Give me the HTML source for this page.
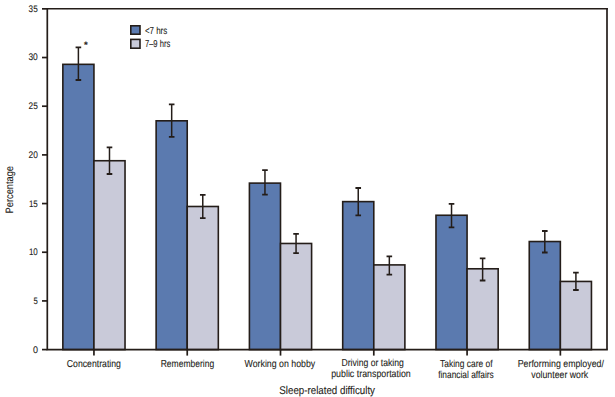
<!DOCTYPE html>
<html><head><meta charset="utf-8"><style>
html,body{margin:0;padding:0;background:#fff;width:615px;height:397px;overflow:hidden}
svg{display:block}
text{font-family:"Liberation Sans",sans-serif;fill:#241d19;stroke:#241d19;stroke-width:0.1px;text-rendering:geometricPrecision}
</style></head><body>
<svg width="615" height="397" viewBox="0 0 615 397">
<rect x="62.85" y="64.34" width="31.09" height="285.26" fill="#5b7aaf" stroke="#241d19" stroke-width="1.6"/>
<rect x="93.94" y="160.73" width="31.09" height="188.87" fill="#c9cad9" stroke="#241d19" stroke-width="1.6"/>
<rect x="156.13" y="120.81" width="31.09" height="228.79" fill="#5b7aaf" stroke="#241d19" stroke-width="1.6"/>
<rect x="187.23" y="206.49" width="31.09" height="143.11" fill="#c9cad9" stroke="#241d19" stroke-width="1.6"/>
<rect x="249.41" y="183.12" width="31.09" height="166.48" fill="#5b7aaf" stroke="#241d19" stroke-width="1.6"/>
<rect x="280.51" y="243.48" width="31.09" height="106.12" fill="#c9cad9" stroke="#241d19" stroke-width="1.6"/>
<rect x="342.70" y="201.62" width="31.09" height="147.98" fill="#5b7aaf" stroke="#241d19" stroke-width="1.6"/>
<rect x="373.79" y="264.90" width="31.09" height="84.70" fill="#c9cad9" stroke="#241d19" stroke-width="1.6"/>
<rect x="435.98" y="215.25" width="31.09" height="134.35" fill="#5b7aaf" stroke="#241d19" stroke-width="1.6"/>
<rect x="467.08" y="268.79" width="31.09" height="80.81" fill="#c9cad9" stroke="#241d19" stroke-width="1.6"/>
<rect x="529.26" y="241.53" width="31.09" height="108.07" fill="#5b7aaf" stroke="#241d19" stroke-width="1.6"/>
<rect x="560.36" y="281.45" width="31.09" height="68.15" fill="#c9cad9" stroke="#241d19" stroke-width="1.6"/>
<path d="M78.39 47.40V80.00" stroke="#241d19" stroke-width="1.5" fill="none"/>
<path d="M75.59 47.40H81.19M75.59 80.00H81.19" stroke="#241d19" stroke-width="1.8" fill="none"/>
<path d="M109.49 147.30V174.00" stroke="#241d19" stroke-width="1.5" fill="none"/>
<path d="M106.69 147.30H112.29M106.69 174.00H112.29" stroke="#241d19" stroke-width="1.8" fill="none"/>
<path d="M171.68 104.40V136.80" stroke="#241d19" stroke-width="1.5" fill="none"/>
<path d="M168.88 104.40H174.48M168.88 136.80H174.48" stroke="#241d19" stroke-width="1.8" fill="none"/>
<path d="M202.77 194.80V218.20" stroke="#241d19" stroke-width="1.5" fill="none"/>
<path d="M199.97 194.80H205.57M199.97 218.20H205.57" stroke="#241d19" stroke-width="1.8" fill="none"/>
<path d="M264.96 170.20V194.70" stroke="#241d19" stroke-width="1.5" fill="none"/>
<path d="M262.16 170.20H267.76M262.16 194.70H267.76" stroke="#241d19" stroke-width="1.8" fill="none"/>
<path d="M296.06 233.80V253.20" stroke="#241d19" stroke-width="1.5" fill="none"/>
<path d="M293.26 233.80H298.86M293.26 253.20H298.86" stroke="#241d19" stroke-width="1.8" fill="none"/>
<path d="M358.24 188.00V215.40" stroke="#241d19" stroke-width="1.5" fill="none"/>
<path d="M355.44 188.00H361.04M355.44 215.40H361.04" stroke="#241d19" stroke-width="1.8" fill="none"/>
<path d="M389.34 256.40V274.70" stroke="#241d19" stroke-width="1.5" fill="none"/>
<path d="M386.54 256.40H392.14M386.54 274.70H392.14" stroke="#241d19" stroke-width="1.8" fill="none"/>
<path d="M451.53 203.80V227.40" stroke="#241d19" stroke-width="1.5" fill="none"/>
<path d="M448.73 203.80H454.33M448.73 227.40H454.33" stroke="#241d19" stroke-width="1.8" fill="none"/>
<path d="M482.62 258.30V280.50" stroke="#241d19" stroke-width="1.5" fill="none"/>
<path d="M479.82 258.30H485.42M479.82 280.50H485.42" stroke="#241d19" stroke-width="1.8" fill="none"/>
<path d="M544.81 231.00V252.50" stroke="#241d19" stroke-width="1.5" fill="none"/>
<path d="M542.01 231.00H547.61M542.01 252.50H547.61" stroke="#241d19" stroke-width="1.8" fill="none"/>
<path d="M575.91 272.60V290.00" stroke="#241d19" stroke-width="1.5" fill="none"/>
<path d="M573.11 272.60H578.71M573.11 290.00H578.71" stroke="#241d19" stroke-width="1.8" fill="none"/>
<path d="M47.30 8.85H607.85" stroke="#241d19" stroke-width="1.5" fill="none"/>
<path d="M607.00 8.10V349.60" stroke="#241d19" stroke-width="1.7" fill="none"/>
<path d="M47.30 8.00V349.60H607.85" stroke="#241d19" stroke-width="1.7" fill="none"/>
<path d="M42 349.60H47.30" stroke="#241d19" stroke-width="1.7"/>
<path d="M42 300.92H47.30" stroke="#241d19" stroke-width="1.7"/>
<path d="M42 252.24H47.30" stroke="#241d19" stroke-width="1.7"/>
<path d="M42 203.56H47.30" stroke="#241d19" stroke-width="1.7"/>
<path d="M42 154.89H47.30" stroke="#241d19" stroke-width="1.7"/>
<path d="M42 106.21H47.30" stroke="#241d19" stroke-width="1.7"/>
<path d="M42 57.53H47.30" stroke="#241d19" stroke-width="1.7"/>
<path d="M42 8.85H47.30" stroke="#241d19" stroke-width="1.7"/>
<path d="M93.94 349.60V355.6" stroke="#241d19" stroke-width="1.7"/>
<path d="M187.23 349.60V355.6" stroke="#241d19" stroke-width="1.7"/>
<path d="M280.51 349.60V355.6" stroke="#241d19" stroke-width="1.7"/>
<path d="M373.79 349.60V355.6" stroke="#241d19" stroke-width="1.7"/>
<path d="M467.08 349.60V355.6" stroke="#241d19" stroke-width="1.7"/>
<path d="M560.36 349.60V355.6" stroke="#241d19" stroke-width="1.7"/>
<text x="32.90" y="352.80" font-size="9.5" textLength="5.00" lengthAdjust="spacingAndGlyphs">0</text>
<text x="33.50" y="304.00" font-size="9.5" textLength="4.30" lengthAdjust="spacingAndGlyphs">5</text>
<text x="28.90" y="255.00" font-size="9.5" textLength="8.90" lengthAdjust="spacingAndGlyphs">10</text>
<text x="28.90" y="206.50" font-size="9.5" textLength="8.90" lengthAdjust="spacingAndGlyphs">15</text>
<text x="28.60" y="158.00" font-size="9.5" textLength="9.30" lengthAdjust="spacingAndGlyphs">20</text>
<text x="28.60" y="109.00" font-size="9.5" textLength="9.20" lengthAdjust="spacingAndGlyphs">25</text>
<text x="28.40" y="60.00" font-size="9.5" textLength="9.40" lengthAdjust="spacingAndGlyphs">30</text>
<text x="28.60" y="12.00" font-size="9.5" textLength="9.10" lengthAdjust="spacingAndGlyphs">35</text>
<rect x="130.8" y="25.8" width="9.2" height="8.4" fill="#5b7aaf" stroke="#241d19" stroke-width="1.6"/>
<rect x="130.8" y="39.4" width="9.2" height="8.8" fill="#c9cad9" stroke="#241d19" stroke-width="1.6"/>
<text x="144.90" y="33.80" font-size="10.1" textLength="22.30" lengthAdjust="spacingAndGlyphs">&lt;7 hrs</text>
<text x="144.90" y="46.90" font-size="10.1" textLength="25.40" lengthAdjust="spacingAndGlyphs">7–9 hrs</text>
<text x="84.0" y="48.2" font-size="9.5" style="font-weight:bold">*</text>
<text x="66.84" y="367.00" font-size="10.1" textLength="54.06" lengthAdjust="spacingAndGlyphs">Concentrating</text>
<text x="160.70" y="367.00" font-size="10.1" textLength="53.50" lengthAdjust="spacingAndGlyphs">Remembering</text>
<text x="244.55" y="367.00" font-size="10.1" textLength="70.65" lengthAdjust="spacingAndGlyphs">Working on hobby</text>
<text x="341.40" y="366.00" font-size="10.1" textLength="62.50" lengthAdjust="spacingAndGlyphs">Driving or taking</text>
<text x="331.20" y="377.00" font-size="10.1" textLength="79.60" lengthAdjust="spacingAndGlyphs">public transportation</text>
<text x="440.10" y="367.00" font-size="10.1" textLength="52.50" lengthAdjust="spacingAndGlyphs">Taking care of</text>
<text x="438.20" y="378.00" font-size="10.1" textLength="55.60" lengthAdjust="spacingAndGlyphs">financial affairs</text>
<text x="517.70" y="367.00" font-size="10.1" textLength="86.20" lengthAdjust="spacingAndGlyphs">Performing employed/</text>
<text x="531.30" y="378.00" font-size="10.1" textLength="56.90" lengthAdjust="spacingAndGlyphs">volunteer work</text>
<text x="279.30" y="394.00" font-size="11.2" textLength="95.70" lengthAdjust="spacingAndGlyphs">Sleep-related difficulty</text>
<text transform="translate(13.4 213.4) rotate(-90)" x="0" y="0" font-size="10.7" textLength="47.4" lengthAdjust="spacingAndGlyphs">Percentage</text>
</svg>
</body></html>
